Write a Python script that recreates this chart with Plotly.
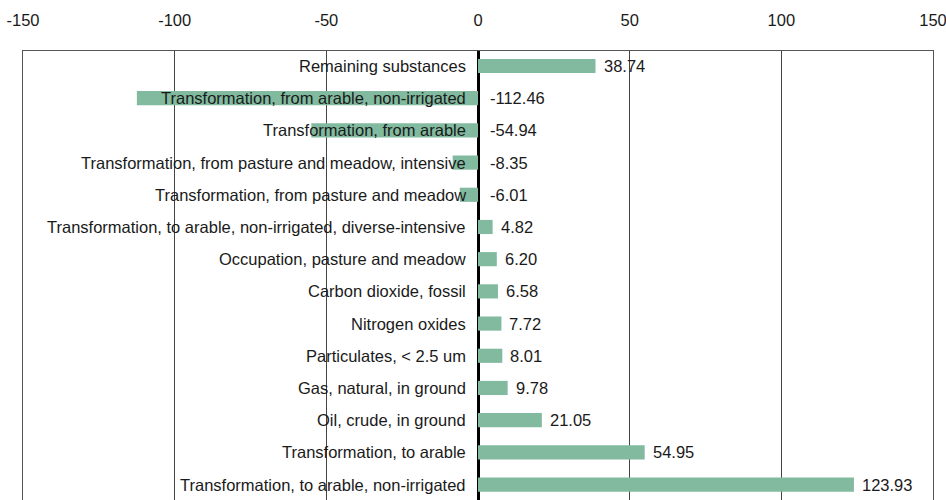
import plotly.graph_objects as go

categories = [
    "Remaining substances",
    "Transformation, from arable, non-irrigated",
    "Transformation, from arable",
    "Transformation, from pasture and meadow, intensive",
    "Transformation, from pasture and meadow",
    "Transformation, to arable, non-irrigated, diverse-intensive",
    "Occupation, pasture and meadow",
    "Carbon dioxide, fossil",
    "Nitrogen oxides",
    "Particulates, < 2.5 um",
    "Gas, natural, in ground",
    "Oil, crude, in ground",
    "Transformation, to arable",
    "Transformation, to arable, non-irrigated",
]
values = [38.74, -112.46, -54.94, -8.35, -6.01, 4.82, 6.20, 6.58, 7.72, 8.01, 9.78, 21.05, 54.95, 123.93]
x_ticks = [-150, -100, -50, 0, 50, 100, 150]

FONT = "Liberation Sans, Arial, sans-serif"
TXT = "#1a1a1a"
FS = 16.5

fig = go.Figure()
fig.add_trace(go.Bar(
    x=values, y=categories, orientation="h",
    marker=dict(color="#81BA9F", line=dict(width=0)),
    width=0.44, hoverinfo="skip",
))

annotations = []
for c, v in zip(categories, values):
    annotations.append(dict(x=0, y=c, xref="x", yref="y", text=c, showarrow=False,
                            xanchor="right", xshift=-10, font=dict(family=FONT, size=FS, color=TXT)))
    vx = v if v > 0 else 0
    annotations.append(dict(x=vx, y=c, xref="x", yref="y", text=f"{v:.2f}", showarrow=False,
                            xanchor="left", xshift=6 if v > 0 else 10,
                            font=dict(family=FONT, size=FS, color=TXT)))

fig.update_layout(
    width=946, height=500,
    margin=dict(l=23, r=13, t=51, b=0),
    paper_bgcolor="white", plot_bgcolor="white",
    showlegend=False,
    annotations=annotations,
    xaxis=dict(
        side="top", range=[-150, 150], tickvals=x_ticks,
        ticktext=[str(t) for t in x_ticks],
        tickfont=dict(family=FONT, size=FS, color=TXT),
        showgrid=True, gridcolor="#444444", gridwidth=1,
        zeroline=True, zerolinecolor="#000000", zerolinewidth=2.5,
        showline=True, linecolor="#555555", linewidth=1, mirror=False,
        ticks="", ticklabelstandoff=17, ticklabeloverflow="allow",
    ),
    yaxis=dict(
        categoryorder="array", categoryarray=categories,
        range=[13.48, -0.466], showticklabels=False, ticks="",
        showgrid=False, showline=True, linecolor="#555555", linewidth=1, mirror=True,
    ),
)

fig.write_html(
    "out.html",
    config={"displayModeBar": False},
    post_script="document.body.style.margin='0';document.body.style.overflow='hidden';",
)
